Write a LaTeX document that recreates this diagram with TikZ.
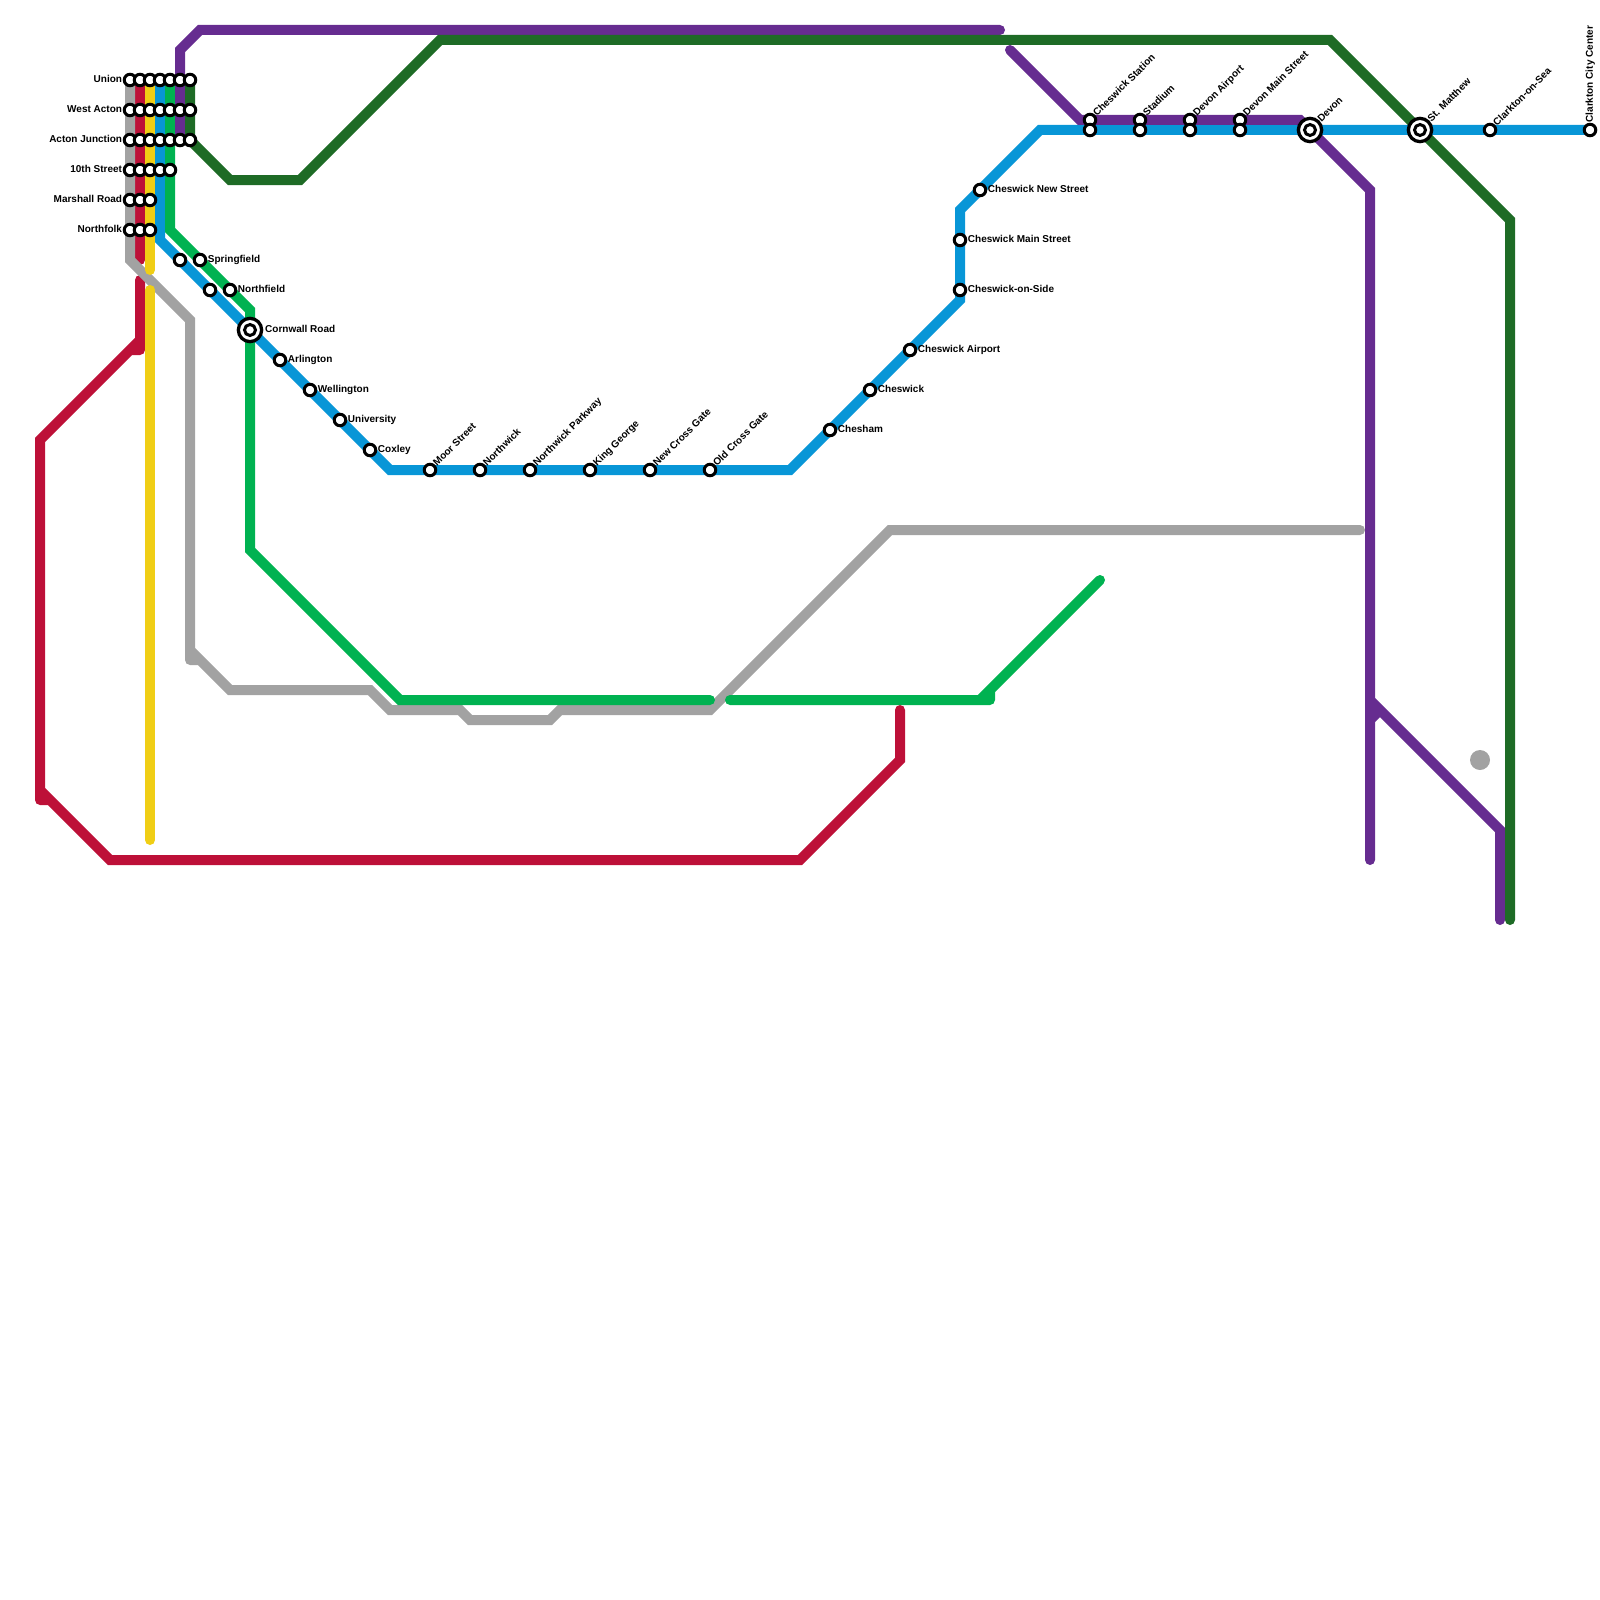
\documentclass[tikz,border=0pt]{standalone}
\usepackage{fontspec}
\setmainfont{Liberation Sans}
\usetikzlibrary{positioning}
\definecolor{cgray}{HTML}{A2A2A2}
\definecolor{cred}{HTML}{BD1038}
\definecolor{cyellow}{HTML}{F0CE15}
\definecolor{cblue}{HTML}{0896D7}
\definecolor{cgreen}{HTML}{00B251}
\definecolor{cpurple}{HTML}{662C90}
\definecolor{cforest}{HTML}{1E6B26}
\tikzset{
  mline/.style={line width=10pt, line cap=round, line join=miter},
  stn/.style={circle, draw=black, fill=white, line width=3pt, inner sep=0pt, minimum size=11.5pt},
  hubo/.style={circle, draw=black, fill=white, line width=3.3pt, inner sep=0pt, minimum size=23.3pt},
  hubi/.style={circle, draw=black, fill=white, line width=3pt, inner sep=0pt, minimum size=11pt},
  lbl/.style={font=\bfseries\fontsize{10}{12}\selectfont, inner sep=0pt, text height=7pt, text depth=1.5pt},
  lbll/.style={lbl, left=0.5pt of #1},
  lblr/.style={lbl, right=0.5pt of #1},
  lbld/.style={lbl, rotate=45, anchor=west, at=(#1.45)},
  dot/.style={circle, fill=cgray, inner sep=0pt, minimum size=20pt},
}
\begin{document}
\begin{tikzpicture}[x=1pt, y=-1pt]
  \useasboundingbox (0,0) rectangle (1600,1600);
  % lines
  \draw[mline, cred] (140,80) -- (140,260) (140,280) -- (140,350) (140,350) -- (130,350) (140,340) -- (40,440) -- (40,800) (40,800) -- (50,800) (40,790) -- (110,860) -- (800,860) -- (900,760) -- (900,710);
  \draw[mline, cgray] (130,80) -- (130,260) -- (190,320) -- (190,660) (190,660) -- (200,660) (190,650) -- (230,690) -- (370,690) -- (390,710) -- (460,710) -- (470,720) -- (550,720) -- (560,710) -- (710,710) -- (890,530) -- (1360,530);
  \draw[mline, cyellow] (150,80) -- (150,270) (150,290) -- (150,840);
  \draw[mline, cblue] (160,80) -- (160,240) -- (390,470) -- (790,470) -- (960,300) -- (960,210) -- (1040,130) -- (1590,130);
  \draw[mline, cgreen] (170,80) -- (170,230) -- (250,310) -- (250,550) -- (400,700) -- (710,700) (730,700) -- (990,700) (990,700) -- (990,690) (980,700) -- (1100,580);
  \draw[mline, cpurple] (180,140) -- (180,50) -- (200,30) -- (1000,30) (1010,50) -- (1080,120) -- (1300,120) -- (1370,190) -- (1370,860) (1370,700) -- (1500,830) -- (1500,920) (1370,720) -- (1380,710);
  \draw[mline, cforest] (190,80) -- (190,140) -- (230,180) -- (300,180) -- (440,40) -- (1330,40) -- (1510,220) -- (1510,920);
  \node[dot] (lone) at (1480,760) {};
  % union to northfolk
  \node[stn] (u1) at (130,80) {};
  \node[stn] (u2) at (140,80) {};
  \node[stn] (u3) at (150,80) {};
  \node[stn] (u4) at (160,80) {};
  \node[stn] (u5) at (170,80) {};
  \node[stn] (u6) at (180,80) {};
  \node[stn] (u7) at (190,80) {};
  \node[stn] (w1) at (130,110) {};
  \node[stn] (w2) at (140,110) {};
  \node[stn] (w3) at (150,110) {};
  \node[stn] (w4) at (160,110) {};
  \node[stn] (w5) at (170,110) {};
  \node[stn] (w6) at (180,110) {};
  \node[stn] (w7) at (190,110) {};
  \node[stn] (a1) at (130,140) {};
  \node[stn] (a2) at (140,140) {};
  \node[stn] (a3) at (150,140) {};
  \node[stn] (a4) at (160,140) {};
  \node[stn] (a5) at (170,140) {};
  \node[stn] (a6) at (180,140) {};
  \node[stn] (a7) at (190,140) {};
  \node[stn] (t1) at (130,170) {};
  \node[stn] (t2) at (140,170) {};
  \node[stn] (t3) at (150,170) {};
  \node[stn] (t4) at (160,170) {};
  \node[stn] (t5) at (170,170) {};
  \node[stn] (m1) at (130,200) {};
  \node[stn] (m2) at (140,200) {};
  \node[stn] (m3) at (150,200) {};
  \node[stn] (n1) at (130,230) {};
  \node[stn] (n2) at (140,230) {};
  \node[stn] (n3) at (150,230) {};
  \node[lbll=u1] (lu) {Union};
  \node[lbll=w1] (lw) {West Acton};
  \node[lbll=a1] (la) {Acton Junction};
  \node[lbll=t1] (lt) {10th Street};
  \node[lbll=m1] (lm) {Marshall Road};
  \node[lbll=n1] (ln) {Northfolk};
  % diagonal down to coxley
  \node[stn] (sp0) at (180,260) {};
  \node[stn] (sp) at (200,260) {};
  \node[stn] (nf0) at (210,290) {};
  \node[stn] (nf) at (230,290) {};
  \node[stn] (ar) at (280,360) {};
  \node[stn] (we) at (310,390) {};
  \node[stn] (un) at (340,420) {};
  \node[stn] (co) at (370,450) {};
  \node[hubo] (cw) at (250,330) {};
  \node[hubi] (cwi) at (250,330) {};
  \node[lblr=sp] (lsp) {Springfield};
  \node[lblr=nf] (lnf) {Northfield};
  \node[lbl, right=15pt of cw.center] (lcw) {Cornwall Road};
  \node[lblr=ar] (lar) {Arlington};
  \node[lblr=we] (lwe) {Wellington};
  \node[lblr=un] (lun) {University};
  \node[lblr=co] (lco) {Coxley};
  % bottom of the blue line
  \node[stn] (mo) at (430,470) {};
  \node[stn] (nw) at (480,470) {};
  \node[stn] (np) at (530,470) {};
  \node[stn] (kg) at (590,470) {};
  \node[stn] (nc) at (650,470) {};
  \node[stn] (oc) at (710,470) {};
  \node[lbld=mo] (lmo) {Moor Street};
  \node[lbld=nw] (lnw) {Northwick};
  \node[lbld=np] (lnp) {Northwick Parkway};
  \node[lbld=kg] (lkg) {King George};
  \node[lbld=nc] (lnc) {New Cross Gate};
  \node[lbld=oc] (loc) {Old Cross Gate};
  % cheswick
  \node[stn] (ch) at (830,430) {};
  \node[stn] (cs) at (870,390) {};
  \node[stn] (cp) at (910,350) {};
  \node[stn] (cd) at (960,290) {};
  \node[stn] (cm) at (960,240) {};
  \node[stn] (ce) at (980,190) {};
  \node[lblr=ch] (lch) {Chesham};
  \node[lblr=cs] (lcs) {Cheswick};
  \node[lblr=cp] (lcp) {Cheswick Airport};
  \node[lblr=cd] (lcd) {Cheswick-on-Side};
  \node[lblr=cm] (lcm) {Cheswick Main Street};
  \node[lblr=ce] (lce) {Cheswick New Street};
  % top right
  \node[stn] (st1) at (1090,120) {};
  \node[stn] (st2) at (1090,130) {};
  \node[stn] (sd1) at (1140,120) {};
  \node[stn] (sd2) at (1140,130) {};
  \node[stn] (da1) at (1190,120) {};
  \node[stn] (da2) at (1190,130) {};
  \node[stn] (dm1) at (1240,120) {};
  \node[stn] (dm2) at (1240,130) {};
  \node[hubo] (dv) at (1310,130) {};
  \node[hubi] (dvi) at (1310,130) {};
  \node[hubo] (sm) at (1420,130) {};
  \node[hubi] (smi) at (1420,130) {};
  \node[stn] (cl) at (1490,130) {};
  \node[stn] (cc) at (1590,130) {};
  \node[lbld=st1] (lst) {Cheswick Station};
  \node[lbld=sd1] (lsd) {Stadium};
  \node[lbld=da1] (lda) {Devon Airport};
  \node[lbld=dm1] (ldm) {Devon Main Street};
  \node[lbld=dv] (ldv) {Devon};
  \node[lbld=sm] (lsm) {St. Matthew};
  \node[lbld=cl] (lcl) {Clarkton-on-Sea};
  \node[lbl, rotate=90, anchor=west, at=(cc.north)] (lcc) {Clarkton City Center};
\end{tikzpicture}
\end{document}
